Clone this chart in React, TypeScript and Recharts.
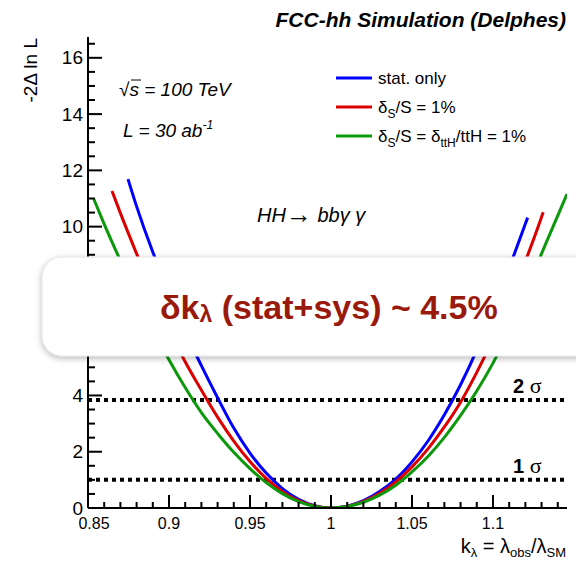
import { Line, LineChart, ReferenceLine, XAxis, YAxis } from "recharts";

// k_lambda ticks
const K_MAJOR = [0.85, 0.9, 0.95, 1, 1.05, 1.1];
const K_MINOR = [
  0.85, 0.86, 0.87, 0.88, 0.89, 0.9, 0.91, 0.92, 0.93, 0.94, 0.95, 0.96, 0.97, 0.98, 0.99, 1,
  1.01, 1.02, 1.03, 1.04, 1.05, 1.06, 1.07, 1.08, 1.09, 1.1, 1.11, 1.12, 1.13, 1.14,
];
const Y_MAJOR = [0, 2, 4, 6, 8, 10, 12, 14, 16];
const Y_MINOR = [
  0, 0.5, 1, 1.5, 2, 2.5, 3, 3.5, 4, 4.5, 5, 5.5, 6, 6.5, 7, 7.5, 8, 8.5, 9, 9.5, 10, 10.5, 11,
  11.5, 12, 12.5, 13, 13.5, 14, 14.5, 15, 15.5, 16, 16.5,
];
const SIGMA_LEVELS = [1, 3.84];

// -2 Delta ln L vs k_lambda
const STAT_ONLY: [number, number][] = [
  [0.8747, 11.69], [0.88, 10.72], [0.89, 9.1], [0.9, 7.7], [0.91, 6.28], [0.92, 5.06],
  [0.93, 3.92], [0.94, 2.84], [0.95, 1.95], [0.96, 1.24], [0.97, 0.69], [0.98, 0.31],
  [0.99, 0.08], [1.0, 0], [1.01, 0.064], [1.02, 0.26], [1.03, 0.585], [1.04, 1.03],
  [1.05, 1.64], [1.06, 2.39], [1.07, 3.31], [1.08, 4.38], [1.09, 5.61], [1.1, 7.0],
  [1.11, 8.53], [1.12, 10.1], [1.1214, 10.32],
];
const SYS_S: [number, number][] = [
  [0.8648, 11.27], [0.87, 10.48], [0.88, 9.04], [0.89, 7.65], [0.9, 6.36], [0.91, 5.2],
  [0.92, 4.19], [0.93, 3.23], [0.94, 2.38], [0.95, 1.65], [0.96, 1.05], [0.97, 0.59],
  [0.98, 0.26], [0.99, 0.066], [1.0, 0], [1.01, 0.058], [1.02, 0.233], [1.03, 0.525],
  [1.04, 0.93], [1.05, 1.46], [1.06, 2.11], [1.07, 2.88], [1.08, 3.76], [1.09, 4.82],
  [1.1, 6.0], [1.11, 7.32], [1.12, 8.77], [1.13, 10.34], [1.131, 10.51],
];
const SYS_S_TTH: [number, number][] = [
  [0.8535, 10.99], [0.86, 10.09], [0.87, 8.79], [0.88, 7.53], [0.89, 6.36], [0.9, 5.27],
  [0.91, 4.28], [0.92, 3.39], [0.93, 2.65], [0.94, 1.98], [0.95, 1.4], [0.96, 0.9],
  [0.97, 0.51], [0.98, 0.227], [0.99, 0.057], [1.0, 0], [1.01, 0.051], [1.02, 0.203],
  [1.03, 0.456], [1.04, 0.81], [1.05, 1.28], [1.06, 1.84], [1.07, 2.51], [1.08, 3.29],
  [1.09, 4.16], [1.1, 5.15], [1.11, 6.29], [1.12, 7.6], [1.13, 9.04], [1.14, 10.39],
  [1.1457, 11.16],
];

const SERIES = [
  { key: "stat", rows: STAT_ONLY, color: "#0000ff" },
  { key: "sysS", rows: SYS_S, color: "#dd0000" },
  { key: "sysTth", rows: SYS_S_TTH, color: "#0b990b" },
];

const FONT = "'Liberation Sans', Arial, Helvetica, sans-serif";
const SERIF = "'Liberation Serif', 'Times New Roman', serif";
const AX = { stroke: "#000", strokeWidth: 2 };
const TICK_W = 2;

const isMajor = (v: number, list: number[]) => list.some((m) => Math.abs(m - v) < 1e-6);

function BottomTick({ x, y, payload }: any) {
  const major = isMajor(payload.value, K_MAJOR);
  return (
    <g>
      <path d={`M${x},${y}V${y - (major ? 13 : 6)}`} stroke="#000" strokeWidth={TICK_W} fill="none" />
      {major && (
        <text
          x={x + (payload.value === 0.85 ? 6 : 0)}
          y={y + 15}
          textAnchor="middle"
          dominantBaseline="central"
          fontSize={16}
          fontFamily={FONT}
          fill="#000"
        >
          {String(payload.value)}
        </text>
      )}
    </g>
  );
}

function TopTick({ x, y, payload }: any) {
  const major = isMajor(payload.value, K_MAJOR);
  return <path d={`M${x},${y}V${y + (major ? 13 : 6)}`} stroke="#000" strokeWidth={TICK_W} fill="none" />;
}

function LeftTick({ x, y, payload }: any) {
  const major = isMajor(payload.value, Y_MAJOR);
  return (
    <g>
      <path d={`M${x},${y}H${x + (major ? 14 : 7)}`} stroke="#000" strokeWidth={TICK_W} fill="none" />
      {major && (
        <text
          x={x - 5}
          y={y}
          textAnchor="end"
          dominantBaseline="central"
          fontSize={19}
          fontFamily={FONT}
          fill="#000"
        >
          {String(payload.value)}
        </text>
      )}
    </g>
  );
}

function RightTick({ x, y, payload }: any) {
  const major = isMajor(payload.value, Y_MAJOR);
  return <path d={`M${x},${y}H${x - (major ? 14 : 7)}`} stroke="#000" strokeWidth={TICK_W} fill="none" />;
}

function Overlay() {
  return (
    <svg
      width={576}
      height={566}
      style={{ position: "absolute", left: 0, top: 0, pointerEvents: "none" }}
      fontFamily={FONT}
    >
      <text x={566} y={27} textAnchor="end" fontSize={21} fontWeight="bold" fontStyle="italic">
        FCC-hh Simulation (Delphes)
      </text>
      <text x={37} y={38} transform="rotate(-90 37 38)" textAnchor="end" fontSize={19}>
        -2Δ ln L
      </text>
      <text x={566} y={553} textAnchor="end" fontSize={20}>
        k<tspan fontSize={13} dy={4}>λ</tspan>
        <tspan dy={-4}> = λ</tspan>
        <tspan fontSize={13} dy={4}>obs</tspan>
        <tspan dy={-4}>/λ</tspan>
        <tspan fontSize={13} dy={4}>SM</tspan>
      </text>

      <text x={119} y={96} fontSize={19} fontStyle="italic">
        √s = 100 TeV
      </text>
      <line x1={131} x2={141} y1={80} y2={80} stroke="#000" strokeWidth={1} />
      <text x={123} y={137} fontSize={19} fontStyle="italic">
        L = 30 ab<tspan fontSize={12} dy={-8}>-1</tspan>
      </text>
      <text x={257} y={222} fontSize={20} fontStyle="italic">
        HH<tspan fontSize={26} fontStyle="normal" dy={1}>→</tspan>
        <tspan dy={-1}> bbγ γ</tspan>
      </text>

      {SERIES.map((s, i) => (
        <line key={s.key} x1={336} x2={372} y1={78 + i * 29} y2={78 + i * 29} stroke={s.color} strokeWidth={3} />
      ))}
      <text x={378} y={84} fontSize={17}>stat. only</text>
      <text x={378} y={113} fontSize={17}>
        δ<tspan fontSize={12} dy={5}>S</tspan>
        <tspan dy={-5}>/S = 1%</tspan>
      </text>
      <text x={378} y={142} fontSize={17}>
        δ<tspan fontSize={12} dy={5}>S</tspan>
        <tspan dy={-5}>/S = δ</tspan>
        <tspan fontSize={12} dy={5}>ttH</tspan>
        <tspan dy={-5}>/ttH = 1%</tspan>
      </text>

      <text x={513} y={393} fontSize={20} fontWeight="bold">
        2<tspan fontFamily={SERIF} fontWeight="normal" fontSize={22}> σ</tspan>
      </text>
      <text x={513} y={473} fontSize={20} fontWeight="bold">
        1<tspan fontFamily={SERIF} fontWeight="normal" fontSize={22}> σ</tspan>
      </text>

      <defs>
        <filter id="boxShadow" x="-10%" y="-30%" width="120%" height="160%">
          <feDropShadow dx={0} dy={2} stdDeviation={3} floodColor="#000" floodOpacity={0.28} />
        </filter>
      </defs>
      <rect x={42} y={257} width={600} height={99} rx={20} fill="#fff" stroke="#e4e4e4" filter="url(#boxShadow)" />
      <text x={160} y={319} fontSize={34} fontWeight="bold" fill="#991a0d">
        δk<tspan fontSize={23} dy={3}>λ</tspan>
        <tspan dy={-3}> (stat+sys) ~ 4.5%</tspan>
      </text>
    </svg>
  );
}

export default function App() {
  return (
    <div
      style={{
        position: "absolute",
        left: 0,
        top: 0,
        width: 576,
        height: 566,
        overflow: "hidden",
        background: "#fff",
        fontFamily: FONT,
      }}
    >
      <LineChart width={576} height={566} margin={{ top: 37, right: 9, left: 0, bottom: 0 }}>
        <XAxis
          xAxisId="b"
          dataKey="k"
          type="number"
          domain={[0.85, 1.1457]}
          allowDataOverflow
          ticks={K_MINOR}
          interval={0}
          height={58}
          tickSize={0}
          tickMargin={0}
          tick={BottomTick}
          axisLine={AX}
        />
        <XAxis
          xAxisId="t"
          orientation="top"
          dataKey="k"
          type="number"
          domain={[0.85, 1.1457]}
          allowDataOverflow
          ticks={K_MINOR}
          interval={0}
          height={0}
          tickSize={0}
          tickMargin={0}
          tick={TopTick}
          axisLine={AX}
        />
        <YAxis
          yAxisId="l"
          type="number"
          domain={[0, 16.74]}
          allowDataOverflow
          ticks={Y_MINOR}
          interval={0}
          width={88}
          tickSize={0}
          tickMargin={0}
          tick={LeftTick}
          axisLine={AX}
        />
        <YAxis
          yAxisId="r"
          orientation="right"
          type="number"
          domain={[0, 16.74]}
          allowDataOverflow
          ticks={Y_MINOR}
          interval={0}
          width={0}
          tickSize={0}
          tickMargin={0}
          tick={RightTick}
          axisLine={AX}
        />
        {SIGMA_LEVELS.map((lvl) => (
          <ReferenceLine
            key={lvl}
            xAxisId="b"
            yAxisId="l"
            y={lvl}
            stroke="#000"
            strokeWidth={4}
            strokeDasharray="4 4"
          />
        ))}
        {SERIES.map((s) => (
          <Line
            key={s.key}
            xAxisId="b"
            yAxisId="l"
            data={s.rows.map(([k, v]) => ({ k, v }))}
            dataKey="v"
            type="monotone"
            stroke={s.color}
            strokeWidth={3}
            dot={false}
            isAnimationActive={false}
          />
        ))}
      </LineChart>
      <Overlay />
    </div>
  );
}
